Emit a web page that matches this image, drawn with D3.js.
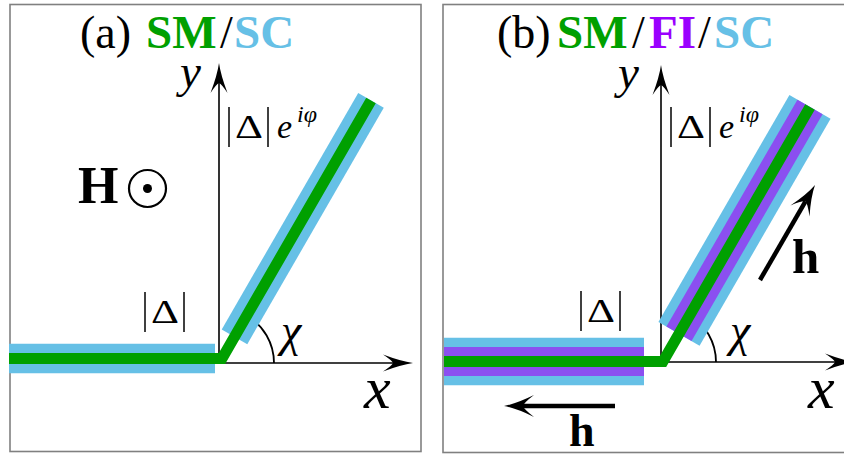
<!DOCTYPE html>
<html lang="en">
<head>
<meta charset="UTF-8">
<title>SM/SC and SM/FI/SC junctions</title>
<script src="https://cdn.jsdelivr.net/npm/d3@7"></script>
<style>
  body { margin: 0; background: #fff; }
  svg { display: block; font-family: "Liberation Serif", "Times New Roman", serif; }
  .math { font-family: "Liberation Serif", serif; font-style: italic; }
</style>
</head>
<body>
<svg id="chart" width="844" height="457"></svg>
<script>
// schematic values, 1 unit = 100 px measured from the axis origin
const titles = [["(a)", "SM", "/", "SC"], ["(b)", "SM", "/", "FI", "/", "SC"]];
const shells = [["SC", "SM"], ["SC", "FI", "SM"]];   // outermost first, core last
const chiDeg = [60, 60];
const leadStart = [-2.10, -2.17];     // left end of the horizontal lead
const coatEnd = [-0.04, -0.17];       // coating stops here on the lead
const armCoatStart = [0.25, 0.32];    // coating starts here on the tilted arm
const armEnd = [2.98, 2.94];
const corner = [[0.03, 0.045], [0.02, 0.005]];
const axisX = [1.94, 1.94];
const axisY = [3.00, 2.97];
const arcR = [0.55, 0.55];
const hArrows = [[], [[-0.46, -0.44, -1.57, -0.44], [0.99, 0.82, 1.54, 1.77]]];

// layout / style
const origins = [[219, 363], [661, 362]];
const frames = [[10, 4.5, 411, 447], [443, 4.5, 430, 448]];
const titleX = [[80, 146, 220, 234], [497, 557, 632, 649, 698, 714]];
const colors = { SM: "#00a000", FI: "#8b4ff0", SC: "#66c0e6" };
const titleColors = { SM: "#00a000", FI: "#9a00ff", SC: "#66c0e6" };
const thickness = { SM: 11, FI: 9, SC: 9.25 };
const labelPos = [
  { y: [180, 87], x: [364, 408], chi: [281, 346], phase: [227, 138], mod: [143, 323] },
  { y: [618, 88], x: [808, 408], chi: [730, 346], phase: [669, 138], mod: [579, 322] }
];

const svg = d3.select("#chart");

function stealth(L, W, notch) {
  return `M0,0 Q${-L * 0.4},${-W * 0.2} ${-L},${-W} Q${-notch * 1.05},${-W * 0.3} ${-notch},0 ` +
         `Q${-notch * 1.05},${W * 0.3} ${-L},${W} Q${-L * 0.4},${W * 0.2} 0,0Z`;
}

function arrow(g, x1, y1, x2, y2, sw, L, W, notch) {
  const a = Math.atan2(y2 - y1, x2 - x1);
  g.append("line")
    .attr("x1", x1).attr("y1", y1)
    .attr("x2", x2 - Math.cos(a) * notch).attr("y2", y2 - Math.sin(a) * notch)
    .attr("stroke", "#000").attr("stroke-width", sw);
  g.append("path")
    .attr("d", stealth(L, W, notch))
    .attr("transform", `translate(${x2},${y2}) rotate(${a * 180 / Math.PI})`)
    .attr("fill", "#000");
}

// |Δ| drawn as two thin rules around an upright Δ
function modDelta(g, x, base) {
  [x + 2, x + 41].forEach(bx => g.append("line")
    .attr("x1", bx).attr("y1", base - 31).attr("x2", bx).attr("y2", base + 9)
    .attr("stroke", "#000").attr("stroke-width", 1.5));
  g.append("text").attr("x", x + 8).attr("y", base).attr("font-size", 33)
    .attr("textLength", 28).attr("lengthAdjust", "spacingAndGlyphs").text("Δ");
}

titles.forEach((parts, p) => {
  const g = svg.append("g");
  const [ox, oy] = origins[p];
  const sx = d3.scaleLinear().domain([0, 1]).range([ox, ox + 100]);
  const sy = d3.scaleLinear().domain([0, 1]).range([oy, oy - 100]);
  const rad = chiDeg[p] * Math.PI / 180;
  const dir = [Math.cos(rad), Math.sin(rad)];
  const [cx, cy] = corner[p];
  const along = s => [cx + dir[0] * s, cy + dir[1] * s];

  // frame
  const f = frames[p];
  g.append("rect").attr("x", f[0]).attr("y", f[1]).attr("width", f[2]).attr("height", f[3])
    .attr("fill", "none").attr("stroke", "#808080").attr("stroke-width", 1.6);

  // axes
  arrow(g, sx(0), sy(0), sx(axisX[p]), sy(0), 1.6, 30, 8.5, 20);
  arrow(g, sx(0), sy(0), sx(0), sy(axisY[p]), 1.6, 30, 8.5, 20);

  // angle arc
  const r = sx(arcR[p]) - sx(0);
  g.append("path")
    .attr("d", d3.arc()({ innerRadius: r, outerRadius: r, startAngle: Math.PI / 2, endAngle: Math.PI / 2 - rad }))
    .attr("transform", `translate(${sx(0)},${sy(0)})`)
    .attr("fill", "none").attr("stroke", "#000").attr("stroke-width", 1.8);

  // coating layers, outermost first
  const layers = shells[p];
  const core = layers[layers.length - 1];
  layers.slice(0, -1).forEach((m, i) => {
    const w = thickness[core] + 2 * d3.sum(layers.slice(i, -1), k => thickness[k]);
    g.append("line")
      .attr("x1", sx(leadStart[p])).attr("y1", sy(cy))
      .attr("x2", sx(coatEnd[p])).attr("y2", sy(cy))
      .attr("stroke", colors[m]).attr("stroke-width", w);
    const a0 = along(armCoatStart[p]), a1 = along(armEnd[p]);
    g.append("line")
      .attr("x1", sx(a0[0])).attr("y1", sy(a0[1]))
      .attr("x2", sx(a1[0])).attr("y2", sy(a1[1]))
      .attr("stroke", colors[m]).attr("stroke-width", w);
  });

  // core wire
  const top = along(armEnd[p]);
  g.append("path")
    .attr("d", d3.line().x(d => sx(d[0])).y(d => sy(d[1]))([[leadStart[p], cy], [cx, cy], top]))
    .attr("fill", "none").attr("stroke", colors[core])
    .attr("stroke-width", thickness[core]).attr("stroke-linejoin", "miter");

  // exchange field arrows
  hArrows[p].forEach(h => arrow(g, sx(h[0]), sy(h[1]), sx(h[2]), sy(h[3]), 4.5, 30, 11, 19));

  // title, each part placed on its own
  parts.forEach((s, i) => {
    g.append("text").attr("x", titleX[p][i]).attr("y", 48)
      .attr("font-size", titleColors[s] ? 47 : 46)
      .attr("font-weight", titleColors[s] ? "bold" : "normal")
      .attr("fill", titleColors[s] || "#000").text(s);
  });

  const L = labelPos[p];
  g.append("text").attr("class", "math").attr("x", L.y[0]).attr("y", L.y[1])
    .attr("font-size", 47).text("y");
  g.append("text").attr("class", "math").attr("x", L.x[0]).attr("y", L.x[1])
    .attr("font-size", 60).text("x");
  g.append("text").attr("class", "math").attr("x", L.chi[0]).attr("y", L.chi[1])
    .attr("font-size", 46).text("χ");

  modDelta(g, L.phase[0], L.phase[1]);
  g.append("text").attr("class", "math").attr("x", L.phase[0] + 50).attr("y", L.phase[1])
    .attr("font-size", 34).text("e");
  g.append("text").attr("class", "math").attr("x", L.phase[0] + 70).attr("y", L.phase[1] - 16)
    .attr("font-size", 24).text("iφ");
  modDelta(g, L.mod[0], L.mod[1]);
});

// applied field H out of the page, panel (a)
svg.append("text").attr("x", 78).attr("y", 203).attr("font-size", 52)
  .attr("font-weight", "bold").text("H");
svg.append("circle").attr("cx", 147.5).attr("cy", 188.5).attr("r", 18.5)
  .attr("fill", "none").attr("stroke", "#000").attr("stroke-width", 2.2);
svg.append("circle").attr("cx", 147.5).attr("cy", 188.5).attr("r", 4.5).attr("fill", "#000");

// h labels, panel (b)
svg.append("text").attr("x", 569).attr("y", 446).attr("font-size", 46).attr("font-weight", "bold").text("h");
svg.append("text").attr("x", 792).attr("y", 273).attr("font-size", 49).attr("font-weight", "bold").text("h");
</script>
</body>
</html>
